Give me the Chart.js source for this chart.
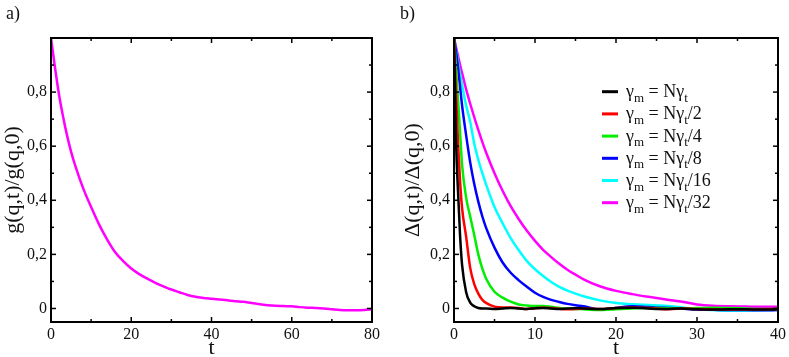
<!DOCTYPE html>
<html>
<head>
<meta charset="utf-8">
<script src="https://cdn.jsdelivr.net/npm/chart.js@4.4.1/dist/chart.umd.min.js"></script>
<style>
  html, body { margin: 0; padding: 0; background: #fff; }
  #wrap { position: relative; width: 789px; height: 357px; overflow: hidden; }
  canvas { position: absolute; top: 0; }
  #chartA { left: 0; }
  #chartB { left: 394px; }
  .tag { position: absolute; top: 4px; font: 18px "Liberation Serif", serif; line-height: 18px; color: #111; }
</style>
</head>
<body>
<div id="wrap">
  <canvas id="chartA" width="394" height="357" style="width:394px;height:357px"></canvas>
  <canvas id="chartB" width="395" height="357" style="width:395px;height:357px"></canvas>
  <div class="tag" style="left:6px">a)</div>
  <div class="tag" style="left:400px">b)</div>
</div>
<script>
// panel a) g(q,t)/g(q,0)
const leftT = [0, 1, 2, 3, 4, 5, 6, 8, 10, 12, 14, 16, 18, 20, 22, 24, 26, 28, 30, 32, 34, 36, 38, 40,
  42, 44, 46, 48, 50, 52, 55, 58, 60, 62, 64, 66, 68, 70, 72, 74, 76, 78, 80];
const gRatio = [1.0, 0.89, 0.79, 0.71, 0.64, 0.58, 0.53, 0.445, 0.375, 0.31, 0.255, 0.208, 0.175, 0.148,
  0.127, 0.11, 0.095, 0.082, 0.07, 0.06, 0.05, 0.043, 0.039, 0.036, 0.033, 0.03, 0.027, 0.025, 0.02,
  0.016, 0.011, 0.009, 0.008, 0.005, 0.003, 0.002, 0.0, -0.003, -0.006, -0.007, -0.007, -0.006, -0.003];

// panel b) Δ(q,t)/Δ(q,0)
const rightT = [0, 0.25, 0.5, 0.75, 1, 1.5, 2, 2.5, 3, 3.5, 4, 5, 6, 7, 8, 9, 10, 11, 12, 13, 14, 15, 16,
  18, 20, 22, 24, 26, 28, 30, 32, 34, 36, 38, 40];
const dN1 = [1.0, 0.62, 0.43, 0.27, 0.16, 0.06, 0.022, 0.008, 0.002, 0, 0, -0.002, 0, 0.002, 0, -0.002,
  0.001, 0.002, 0, -0.002, 0, 0.001, 0, -0.002, 0.002, 0.003, 0, -0.002, 0, -0.003, -0.004, -0.003,
  -0.003, -0.004, -0.003];
const dN2 = [1.0, 0.79, 0.61, 0.47, 0.37, 0.265, 0.15, 0.09, 0.055, 0.032, 0.02, 0.007, 0.004, 0.004,
  0.002, -0.002, 0.001, 0.003, 0.002, -0.001, -0.003, -0.002, 0, -0.002, 0.002, 0.004, 0.002, -0.003,
  0, -0.002, -0.003, -0.004, -0.004, -0.003, -0.002];
const dN4 = [1.0, 0.89, 0.77, 0.65, 0.53, 0.41, 0.34, 0.272, 0.2, 0.147, 0.108, 0.062, 0.04, 0.025,
  0.015, 0.011, 0.009, 0.009, 0.006, 0.002, -0.001, -0.002, -0.003, -0.006, -0.003, 0, 0.002, 0.001, 0,
  0.002, 0.003, 0.002, 0, -0.002, -0.002];
const dN8 = [1.0, 0.95, 0.89, 0.82, 0.75, 0.64, 0.54, 0.46, 0.395, 0.34, 0.295, 0.225, 0.17, 0.132,
  0.104, 0.08, 0.058, 0.043, 0.032, 0.024, 0.017, 0.012, 0.008, -0.004, 0.002, 0.008, 0.005, 0.003, 0,
  -0.004, -0.005, -0.006, -0.006, -0.007, -0.006];
const dN16 = [1.0, 0.955, 0.91, 0.865, 0.825, 0.75, 0.69, 0.61, 0.55, 0.5, 0.455, 0.375, 0.315, 0.26,
  0.215, 0.175, 0.145, 0.12, 0.098, 0.08, 0.066, 0.055, 0.045, 0.03, 0.02, 0.016, 0.013, 0.01, 0.005,
  -0.003, -0.006, -0.008, -0.008, -0.007, -0.005];
const dN32 = [1.0, 0.966, 0.933, 0.9, 0.87, 0.81, 0.757, 0.707, 0.66, 0.615, 0.574, 0.5, 0.435, 0.378,
  0.33, 0.287, 0.25, 0.217, 0.19, 0.165, 0.143, 0.125, 0.108, 0.082, 0.065, 0.053, 0.043, 0.034, 0.026,
  0.015, 0.01, 0.008, 0.007, 0.006, 0.006];

const seriesLabels = ["γ_m = Nγ_t", "γ_m = Nγ_t/2", "γ_m = Nγ_t/4", "γ_m = Nγ_t/8", "γ_m = Nγ_t/16", "γ_m = Nγ_t/32"];
const seriesColors = ["#000000", "#ff0000", "#00ee00", "#0000ff", "#00ffff", "#ff00ff"];

// tick labels
const yTicks = [0, 0.2, 0.4, 0.6, 0.8];
const yMinor = [0.1, 0.3, 0.5, 0.7, 0.9];
const xTicksA = [0, 20, 40, 60, 80];
const xMinorA = [10, 30, 50, 70];
const xTicksB = [0, 10, 20, 30, 40];
const xMinorB = [5, 15, 25, 35];

const FONT = '"Liberation Serif", "Times New Roman", serif';

// black box with inward ticks on all four sides
const framePlugin = {
  id: "frame",
  afterDatasetsDraw(chart, args, o) {
    const { ctx, chartArea: a, scales } = chart;
    const seg = (x1, y1, x2, y2) => { ctx.beginPath(); ctx.moveTo(x1, y1); ctx.lineTo(x2, y2); ctx.stroke(); };
    ctx.save();
    ctx.strokeStyle = "#000";
    ctx.lineWidth = 1.5;
    const marks = (vals, len) => {
      vals.forEach((v) => {
        const px = scales.x.getPixelForValue(v);
        seg(px, a.bottom, px, a.bottom - len);
        seg(px, a.top, px, a.top + len);
      });
    };
    const ymarks = (vals, len) => {
      vals.forEach((v) => {
        const py = scales.y.getPixelForValue(v);
        seg(a.left, py, a.left + len, py);
        seg(a.right, py, a.right - len, py);
      });
    };
    marks(o.xMajor, 5);
    marks(o.xMinor, 3);
    ymarks(yTicks, 5);
    ymarks(yMinor, 3);
    ctx.lineWidth = 2;
    ctx.strokeRect(a.left, a.top, a.right - a.left, a.bottom - a.top);
    ctx.restore();
  },
};

// legend with subscripts ("_x" -> subscript x)
const subLegend = {
  id: "subLegend",
  afterDraw(chart, args, o) {
    if (!o.show) return;
    const ctx = chart.ctx;
    ctx.save();
    chart.data.datasets.forEach((ds, i) => {
      const y = o.y + i * o.step;
      ctx.strokeStyle = ds.borderColor;
      ctx.lineWidth = 3;
      ctx.beginPath();
      ctx.moveTo(o.x, y);
      ctx.lineTo(o.x + 16, y);
      ctx.stroke();
      let x = o.x + 24;
      const base = y + 5.5;
      ctx.fillStyle = "#111";
      ctx.textBaseline = "alphabetic";
      ds.label.split(/_(.)/).forEach((part, k) => {
        if (k % 2) {
          ctx.font = "13px " + FONT;
          ctx.fillText(part, x, base + 4.5);
        } else {
          ctx.font = "18px " + FONT;
          ctx.fillText(part, x, base);
        }
        x += ctx.measureText(part).width;
      });
    });
    ctx.restore();
  },
};

function makeScales(xMax, xTicks, yTitle, yW, yTitlePad) {
  return {
    x: {
      type: "linear", min: 0, max: xMax,
      afterBuildTicks: (s) => { s.ticks = xTicks.map((v) => ({ value: v })); },
      afterFit: (s) => { s.height = 35; },
      grid: { display: false, drawTicks: false },
      border: { display: false },
      ticks: { color: "#111", font: { family: FONT, size: 16 }, padding: 3, maxRotation: 0, autoSkip: false },
      title: { display: true, text: "t", color: "#111", font: { family: FONT, size: 22 }, padding: -4 },
    },
    y: {
      type: "linear", min: -0.05, max: 1.0,
      afterBuildTicks: (s) => { s.ticks = yTicks.map((v) => ({ value: v })); },
      afterFit: (s) => { s.width = yW; },
      grid: { display: false, drawTicks: false },
      border: { display: false },
      ticks: {
        color: "#111", font: { family: FONT, size: 16 }, padding: 4,
        callback: (v) => String(v).replace(".", ","),
      },
      title: { display: true, text: yTitle, color: "#111", font: { family: FONT, size: 22 }, padding: yTitlePad },
    },
  };
}

const baseOpts = {
  responsive: false,
  animation: false,
  events: [],
};

new Chart(document.getElementById("chartA"), {
  type: "line",
  data: {
    datasets: [{
      label: "g",
      data: leftT.map((t, i) => ({ x: t, y: gRatio[i] })),
      borderColor: "#ff00ff",
      borderWidth: 2.5,
      pointRadius: 0,
      cubicInterpolationMode: "monotone",
    }],
  },
  options: {
    ...baseOpts,
    layout: { padding: { left: 0, top: 38, right: 22, bottom: 0 } },
    scales: makeScales(80, xTicksA, "g(q,t)/g(q,0)", 51, 0),
    plugins: { legend: { display: false }, tooltip: { enabled: false }, frame: { xMajor: xTicksA, xMinor: xMinorA } },
  },
  plugins: [framePlugin],
});

const rightSeries = [dN1, dN2, dN4, dN8, dN16, dN32];

new Chart(document.getElementById("chartB"), {
  type: "line",
  data: {
    datasets: rightSeries.map((vals, k) => ({
      label: seriesLabels[k],
      data: rightT.map((t, i) => ({ x: t, y: vals[i] })),
      borderColor: seriesColors[k],
      borderWidth: 2.5,
      pointRadius: 0,
      cubicInterpolationMode: "monotone",
    })),
  },
  options: {
    ...baseOpts,
    layout: { padding: { left: 0, top: 38, right: 11, bottom: 0 } },
    scales: makeScales(40, xTicksB, "Δ(q,t)/Δ(q,0)", 60, 6),
    plugins: {
      legend: { display: false }, tooltip: { enabled: false },
      frame: { xMajor: xTicksB, xMinor: xMinorB },
      subLegend: { show: true, x: 208, y: 91.7, step: 22.2 },
    },
  },
  plugins: [framePlugin, subLegend],
});
</script>
</body>
</html>
